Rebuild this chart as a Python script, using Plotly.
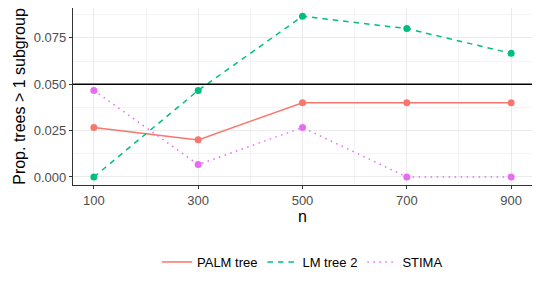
import plotly.graph_objects as go

n_values = [100, 300, 500, 700, 900]
palm_tree = [0.02667, 0.02, 0.04, 0.04, 0.04]
lm_tree2 = [0.0, 0.04667, 0.08667, 0.08, 0.06667]
stima = [0.04667, 0.00667, 0.02667, 0.0, 0.0]
series_names = ["PALM tree", "LM tree 2", "STIMA"]
series_colors = ["#F8766D", "#00BF7D", "#E76BF3"]
series_dash = ["solid", "5.5px,5px", "1.5px,4.5px"]
y_ticks = [0.0, 0.025, 0.05, 0.075]
y_tick_labels = ["0.000", "0.025", "0.050", "0.075"]
x_ticks = [100, 300, 500, 700, 900]
ref_line = 0.05

FONT = "Liberation Sans, Arial"

fig = go.Figure()
for name, vals, col, dash in zip(series_names, [palm_tree, lm_tree2, stima], series_colors, series_dash):
    fig.add_trace(go.Scatter(x=n_values, y=vals, mode="lines+markers", name=name,
                             line=dict(color=col, width=1.5, dash=dash),
                             marker=dict(color=col, size=7), showlegend=False))
for name, col, dash in zip(series_names, series_colors, series_dash):
    fig.add_trace(go.Scatter(x=[None], y=[None], mode="lines", name=name,
                             line=dict(color=col, width=1.5, dash=dash)))

fig.add_hline(y=ref_line, line=dict(color="black", width=1.6), layer="above")

axis_common = dict(showline=True, linecolor="#333333", linewidth=1.2, mirror=True,
                   ticks="outside", ticklen=3, tickcolor="#333333",
                   gridcolor="#EBEBEB", gridwidth=1.1, zeroline=False,
                   tickfont=dict(family=FONT, size=13, color="#4D4D4D"),
                   minor=dict(showgrid=True, gridcolor="#F4F4F4", gridwidth=0.6))

fig.update_xaxes(range=[60, 940], tickvals=x_ticks, ticktext=[str(v) for v in x_ticks],
                 title=dict(text="n", font=dict(family=FONT, size=16, color="black"), standoff=4),
                 **axis_common)
fig.update_yaxes(range=[-0.00433, 0.0911], tickvals=y_ticks, ticktext=y_tick_labels,
                 title=dict(text="Prop. trees > 1 subgroup", font=dict(family=FONT, size=16, color="black"), standoff=4),
                 **axis_common)
fig.update_xaxes(minor=dict(tickvals=[200, 400, 600, 800], ticklen=0))
fig.update_yaxes(minor=dict(tickvals=[0.0125, 0.0375, 0.0625, 0.0875], ticklen=0))

# page has an 8px body margin, so the figure is 8px smaller and margins shifted
fig.update_layout(width=532, height=283, margin=dict(l=65, r=8, t=0, b=106, autoexpand=False),
                  plot_bgcolor="white", paper_bgcolor="white",
                  font=dict(family=FONT, size=13, color="black"),
                  legend=dict(orientation="h", x=0.5, xanchor="center", y=-0.435, yanchor="middle",
                              font=dict(family=FONT, size=13, color="black"), itemwidth=30))
fig.write_html("out.html")
